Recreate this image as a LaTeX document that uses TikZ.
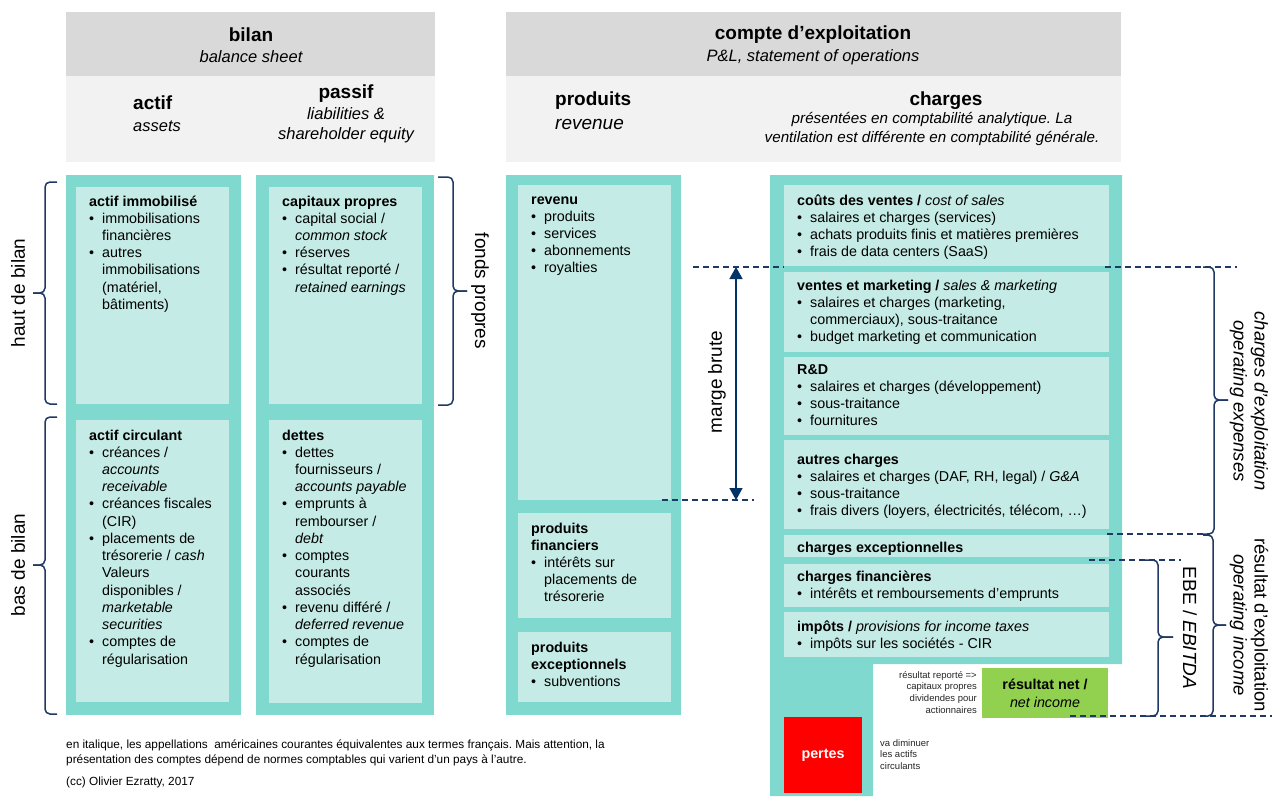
\documentclass[tikz,border=0pt]{standalone}
\usepackage{fontspec}
\setmainfont{Liberation Sans}
\usetikzlibrary{arrows.meta}
\frenchspacing
\definecolor{tealO}{RGB}{127,217,206}
\definecolor{tealI}{RGB}{196,235,229}
\definecolor{hdrD}{RGB}{217,217,217}
\definecolor{hdrL}{RGB}{242,242,242}
\definecolor{navy}{RGB}{31,56,100}
\definecolor{arrowblue}{RGB}{0,51,102}
\definecolor{grn}{RGB}{146,208,80}
\newcommand{\bl}{\makebox[13pt][l]{\textbullet}}
\newcommand{\ci}{\hspace*{13pt}}
\newcommand{\st}{\rule{0pt}{12pt}}
\newcommand{\bodyfont}{\fontsize{14.3}{17.23}\selectfont}
\newcommand{\bigfont}{\fontsize{19}{22}\selectfont}
\newcommand{\subfont}{\fontsize{16.5}{20}\selectfont}
\begin{document}
\begin{tikzpicture}[x=1pt,y=-1pt,
  rect/.style={draw=none,inner sep=0pt,outer sep=0pt,anchor=north west},
  outerbox/.style={rect,fill=tealO},
  innerbox/.style={rect,fill=tealI},
  hdark/.style={rect,fill=hdrD},
  hlight/.style={rect,fill=hdrL},
  body/.style={anchor=north west,inner sep=0pt,align=left,font=\bodyfont},
  vlab/.style={inner sep=0pt,align=center,font=\bigfont},
  rlab/.style={inner sep=0pt,align=center,rotate=-90,font=\fontsize{18.5}{21}\selectfont},
  small/.style={inner sep=0pt,font=\fontsize{9.5}{11.6}\selectfont,text=black!85},
  foot/.style={inner sep=0pt,anchor=west,font=\fontsize{11.8}{13}\selectfont},
  guide/.style={draw=navy,line width=1.8pt,dash pattern=on 6pt off 4pt},
  brk/.style={draw=navy,line width=1.5pt,rounded corners=5pt},
  arr/.style={draw=arrowblue,line width=1.6pt,{Triangle[width=13pt,length=12pt]}-{Triangle[width=13pt,length=12pt]}}
]
\useasboundingbox (0,0) rectangle (1272,796);

% ---------- headers ----------
\node[hdark,minimum width=369pt,minimum height=64pt] (hbD) at (66,12) {};
\node[hlight,minimum width=369pt,minimum height=86pt] (hbL) at (66,76) {};
\node[hdark,minimum width=615pt,minimum height=64pt] (hcD) at (506,12) {};
\node[hlight,minimum width=615pt,minimum height=86pt] (hcL) at (506,76) {};

\node[inner sep=0pt,font=\bigfont\bfseries] (tbilan) at (251,35) {bilan};
\node[inner sep=0pt,font=\subfont\itshape] (tbs) at (251,57) {balance sheet};
\node[inner sep=0pt,font=\bigfont\bfseries] (tcompte) at (813,35) {compte d’exploitation};
\node[inner sep=0pt,font=\subfont\itshape] (tpl) at (813,57) {P\&L, statement of operations};

\node[inner sep=0pt,anchor=west,font=\bigfont\bfseries] (tactif) at (133,103) {actif};
\node[inner sep=0pt,anchor=west,font=\subfont\itshape] (tassets) at (133,126) {assets};
\node[inner sep=0pt,font=\bigfont\bfseries] (tpassif) at (346,94) {passif};
\node[inner sep=0pt,align=center,font=\fontsize{16.5}{20}\selectfont\itshape] (tliab) at (346,125) {liabilities \&\\shareholder equity};
\node[inner sep=0pt,anchor=west,font=\bigfont\bfseries] (tprod) at (555,101) {produits};
\node[inner sep=0pt,anchor=west,font=\bigfont\itshape] (trev) at (555,124) {revenue};
\node[inner sep=0pt,font=\bigfont\bfseries] (tcharges) at (946,101) {charges};
\node[inner sep=0pt,align=center,font=\fontsize{15.2}{19}\selectfont\itshape] (tpres) at (932,128.5) {présentées en comptabilité analytique. La\\ventilation est différente en comptabilité générale.};

% ---------- outer columns ----------
\node[outerbox,minimum width=175pt,minimum height=540pt] (colA) at (66,175) {};
\node[outerbox,minimum width=178pt,minimum height=540pt] (colP) at (256,175) {};
\node[outerbox,minimum width=175pt,minimum height=540pt] (colR) at (506,175) {};
\fill[tealO] (770,175) -- (1122,175) -- (1122,664) -- (873,664) -- (873,796) -- (770,796) -- cycle;

% guide line across charges (behind inner boxes)
\coordinate (gT1) at (693,267);
\coordinate (gT2) at (784,267);
\coordinate (gT3) at (1105,267);
\coordinate (gT4) at (1237,267);
\draw[guide] (gT1) -- (gT2);
\draw[guide] (gT3) -- (gT4);

% ---------- inner boxes ----------
\node[innerbox,minimum width=153pt,minimum height=217pt] (aimm) at (76,187) {};
\node[innerbox,minimum width=153pt,minimum height=282pt] (acirc) at (76,420) {};
\node[innerbox,minimum width=153pt,minimum height=217pt] (cprop) at (269,187) {};
\node[innerbox,minimum width=153pt,minimum height=283pt] (dettes) at (269,420) {};
\node[innerbox,minimum width=153pt,minimum height=315pt] (revenu) at (518,185) {};
\node[innerbox,minimum width=153pt,minimum height=105pt] (pfin) at (518,513) {};
\node[innerbox,minimum width=153pt,minimum height=70pt] (pexc) at (518,632) {};
\node[innerbox,minimum width=325pt,minimum height=81pt] (cv) at (784,185) {};
\node[innerbox,minimum width=325pt,minimum height=80pt] (vm) at (784,272) {};
\node[innerbox,minimum width=325pt,minimum height=78pt] (rd) at (784,357) {};
\node[innerbox,minimum width=325pt,minimum height=89pt] (ac) at (784,440) {};
\node[innerbox,minimum width=325pt,minimum height=22pt] (cex) at (784,535) {};
\node[innerbox,minimum width=325pt,minimum height=43pt] (cfin) at (784,564) {};
\node[innerbox,minimum width=325pt,minimum height=45pt] (imp) at (784,612) {};
\node[rect,fill=grn,minimum width=126pt,minimum height=50pt] (net) at (982,668) {};
\node[rect,fill=red,minimum width=78pt,minimum height=76pt] (pertes) at (784,717) {};

% ---------- box texts ----------
\node[body] (aimmT) at (89,193.8) {\st\textbf{actif immobilisé}\\ \bl immobilisations\\ \ci financières\\ \bl autres\\ \ci immobilisations\\ \ci (matériel,\\ \ci bâtiments)};
\node[body] (acircT) at (89,427.8) {\st\textbf{actif circulant}\\ \bl créances /\\ \ci\textit{accounts}\\ \ci\textit{receivable}\\ \bl créances fiscales\\ \ci (CIR)\\ \bl placements de\\ \ci trésorerie / \textit{cash}\\ \ci Valeurs\\ \ci disponibles /\\ \ci\textit{marketable}\\ \ci\textit{securities}\\ \bl comptes de\\ \ci régularisation};
\node[body] (cpropT) at (282,193.8) {\st\textbf{capitaux propres}\\ \bl capital social /\\ \ci\textit{common stock}\\ \bl réserves\\ \bl résultat reporté /\\ \ci\textit{retained earnings}};
\node[body] (dettesT) at (282,427.8) {\st\textbf{dettes}\\ \bl dettes\\ \ci fournisseurs /\\ \ci\textit{accounts payable}\\ \bl emprunts à\\ \ci rembourser /\\ \ci\textit{debt}\\ \bl comptes\\ \ci courants\\ \ci associés\\ \bl revenu différé /\\ \ci\textit{deferred revenue}\\ \bl comptes de\\ \ci régularisation};
\node[body] (revenuT) at (531,191.8) {\st\textbf{revenu}\\ \bl produits\\ \bl services\\ \bl abonnements\\ \bl royalties};
\node[body] (pfinT) at (531,520.8) {\st\textbf{produits}\\ \textbf{financiers}\\ \bl intérêts sur\\ \ci placements de\\ \ci trésorerie};
\node[body] (pexcT) at (531,640.3) {\st\textbf{produits}\\ \textbf{exceptionnels}\\ \bl subventions};
\node[body] (cvT) at (797,192.8) {\st\textbf{coûts des ventes /} \textit{cost of sales}\\ \bl salaires et charges (services)\\ \bl achats produits finis et matières premières\\ \bl frais de data centers (SaaS)};
\node[body] (vmT) at (797,277.8) {\st\textbf{ventes et marketing /} \textit{sales \& marketing}\\ \bl salaires et charges (marketing,\\ \ci commerciaux), sous-traitance\\ \bl budget marketing et communication};
\node[body] (rdT) at (797,361.8) {\st\textbf{R\&D}\\ \bl salaires et charges (développement)\\ \bl sous-traitance\\ \bl fournitures};
\node[body] (acT) at (797,451.8) {\st\textbf{autres charges}\\ \bl salaires et charges (DAF, RH, legal) / \textit{G\&A}\\ \bl sous-traitance\\ \bl frais divers (loyers, électricités, télécom, …)};
\node[body] (cexT) at (797,539.8) {\st\textbf{charges exceptionnelles}};
\node[body] (cfinT) at (797,568.8) {\st\textbf{charges financières}\\ \bl intérêts et remboursements d’emprunts};
\node[body] (impT) at (797,618.8) {\st\textbf{impôts /} \textit{provisions for income taxes}\\ \bl impôts sur les sociétés - CIR};

\node[inner sep=0pt,align=center,font=\fontsize{14.3}{18}\selectfont] (netT) at (net.center) {\textbf{résultat net /}\\ \textit{net income}};
\node[inner sep=0pt,text=white,font=\fontsize{14.3}{17}\selectfont\bfseries] (pertesT) at (pertes.center) {pertes};

\node[small,anchor=north east,align=right] (repT) at (977,671) {résultat reporté =>\\capitaux propres\\dividendes pour\\actionnaires};
\node[small,anchor=north west,align=left] (dimT) at (880,739) {va diminuer\\les actifs\\circulants};

% ---------- guide lines ----------
\coordinate (gB1) at (662,500);
\coordinate (gB2) at (754,500);
\draw[guide] (gB1) -- (gB2);
\coordinate (g534a) at (1107,534);
\coordinate (g534b) at (1210,534);
\draw[guide] (g534a) -- (g534b);
\coordinate (g560a) at (1089,560);
\coordinate (g560b) at (1181,560);
\draw[guide] (g560a) -- (g560b);
\coordinate (g716a) at (1070,716);
\coordinate (g716b) at (1272,716);
\draw[guide] (g716a) -- (g716b);

% ---------- marge brute arrow ----------
\coordinate (mbT) at (736,267);
\coordinate (mbB) at (736,500);
\draw[arr] (mbT) -- (mbB);
\node[vlab,rotate=90] (mbL) at (717,382) {marge brute};

% ---------- braces ----------
% haut de bilan
\draw[brk] (57,182) -- (45,182) -- (45,293) -- (33,293);
\draw[brk] (57,404) -- (45,404) -- (45,293) -- (33,293);
% bas de bilan
\draw[brk] (57,417) -- (45,417) -- (45,565) -- (33,565);
\draw[brk] (57,714) -- (45,714) -- (45,565) -- (33,565);
% fonds propres
\draw[brk] (438,177) -- (453,177) -- (453,291) -- (467,291);
\draw[brk] (438,405) -- (453,405) -- (453,291) -- (467,291);
% charges d'exploitation
\draw[brk] (1203,267) -- (1214,267) -- (1214,400) -- (1228,400);
\draw[brk] (1203,534) -- (1214,534) -- (1214,400) -- (1228,400);
% resultat d'exploitation
\draw[brk] (1203,535) -- (1213,535) -- (1213,625) -- (1226,625);
\draw[brk] (1203,716) -- (1213,716) -- (1213,625) -- (1226,625);
% EBE
\draw[brk] (1143,560) -- (1158,560) -- (1158,637) -- (1173,637);
\draw[brk] (1143,716) -- (1158,716) -- (1158,637) -- (1173,637);

% ---------- vertical labels ----------
\node[vlab,rotate=90] (hbT) at (18,293) {haut de bilan};
\node[vlab,rotate=90] (bbT) at (18,565) {bas de bilan};
\node[vlab,rotate=-90] (fpT) at (480,291) {fonds propres};
\node[rlab,font=\fontsize{18.5}{21}\selectfont\itshape] (ceT) at (1249,401) {charges d’exploitation\\operating expenses};
\node[vlab,rotate=-90] (ebT) at (1190,628) {EBE / \textit{EBITDA}};
\node[rlab] (reT) at (1249,625) {résultat d’exploitation\\\textit{operating income}};

% ---------- footnotes ----------
\node[foot] (f1) at (66,745) {en italique, les appellations\ \ américaines courantes équivalentes aux termes français. Mais attention, la};
\node[foot] (f2) at (66,760) {présentation des comptes dépend de normes comptables qui varient d'un pays à l'autre.};
\node[foot] (f3) at (66,782) {(cc) Olivier Ezratty, 2017};
\end{tikzpicture}
\end{document}
